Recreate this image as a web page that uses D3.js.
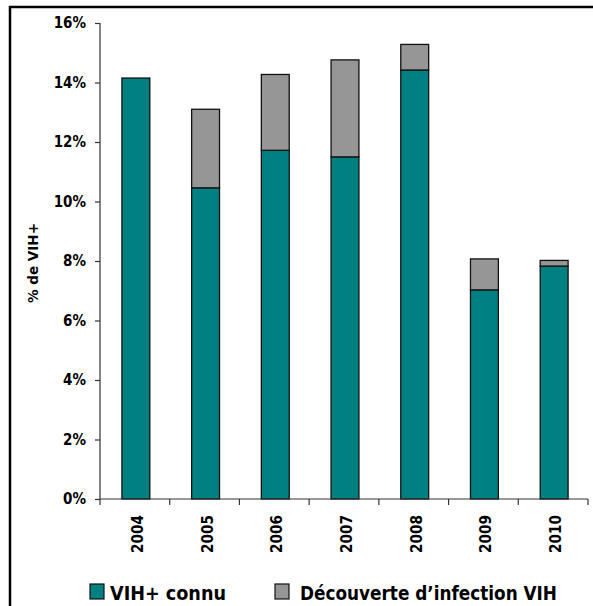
<!DOCTYPE html>
<html><head><meta charset="utf-8">
<script src="https://cdn.jsdelivr.net/npm/d3@7/dist/d3.min.js"></script>
<style>body{margin:0;background:#fff}svg{display:block}text{font-family:"DejaVu Sans Condensed","DejaVu Sans",sans-serif;font-weight:bold;fill:#000}</style>
</head><body>
<svg id="c" width="593" height="606"></svg>
<script>
const years = ["2004","2005","2006","2007","2008","2009","2010"];
const connu = [14.15, 10.46, 11.72, 11.5, 14.42, 7.03, 7.83];
const decouverte = [0, 2.64, 2.55, 3.26, 0.86, 1.04, 0.19];
const yTicks = [0,2,4,6,8,10,12,14,16];
const seriesNames = ["VIH+ connu","Découverte d\u2019infection VIH"];
const colors = ["#008080","#969696"];

const FONT = '"DejaVu Sans Condensed","DejaVu Sans",sans-serif';
const svg = d3.select("#c");
svg.append("rect").attr("x",10).attr("y",7).attr("width",600).attr("height",620)
  .attr("fill","none").attr("stroke","#000").attr("stroke-width",2.5);

const x = d3.scaleBand().domain(years).range([100,588]).paddingInner(0.6).paddingOuter(0.3);
const xb = d3.scaleBand().domain(years).range([100,588]);
const y = d3.scaleLinear().domain([0,16]).range([499,23]);

const data = years.map((yr,i)=>({year:yr, connu:connu[i], decouverte:decouverte[i]}));
const stack = d3.stack().keys(["connu","decouverte"])(data);

const g = svg.append("g");
stack.forEach((s,si)=>{
  g.selectAll(null).data(s.filter(d=>d[1]-d[0]>0)).enter().append("rect")
    .attr("x",d=>x(d.data.year)+1).attr("width",x.bandwidth())
    .attr("y",d=>y(d[1])).attr("height",d=>y(d[0])-y(d[1]))
    .attr("fill",colors[si]).attr("stroke","#111").attr("stroke-width",1.3);
});

// y axis
const ya = svg.append("g").attr("transform","translate(100,0)")
  .call(d3.axisLeft(y).tickValues(yTicks).tickFormat(d=>d+"%").tickSize(5).tickPadding(9));
ya.attr("font-family",FONT).attr("font-size",15);
ya.select(".domain").attr("stroke","#333").attr("stroke-width",1.2).attr("d","M0,23V499");
ya.selectAll(".tick line").attr("stroke","#333").attr("stroke-width",1.2);
ya.selectAll("text").style("font-size","15px").style("font-family",FONT).style("font-weight","bold");

// x axis
const xa = svg.append("g").attr("transform","translate(0,499)");
xa.append("line").attr("x1",100).attr("x2",588).attr("stroke","#333").attr("stroke-width",1.2);
const bounds = years.map(d=>xb(d)).concat([588]);
xa.selectAll(null).data(bounds).enter().append("line")
  .attr("x1",d=>d).attr("x2",d=>d).attr("y1",0).attr("y2",6).attr("stroke","#333").attr("stroke-width",1.2);
xa.selectAll(null).data(years).enter().append("text")
  .attr("transform",d=>`translate(${x(d)+1+x.bandwidth()/2+7},16) rotate(-90)`)
  .attr("text-anchor","end").style("font-size","16px")
  .attr("textLength",38).attr("lengthAdjust","spacingAndGlyphs").text(d=>d);

// y label
svg.append("text").attr("transform","translate(38,263) rotate(-90)")
  .attr("text-anchor","middle").style("font-size","14px")
  .attr("textLength",80).attr("lengthAdjust","spacingAndGlyphs").text("% de VIH+");

// legend
const lx = [90,275];
const tx = [110,300];
const tl = [116,257];
seriesNames.forEach((n,i)=>{
  svg.append("rect").attr("x",lx[i]).attr("y",584).attr("width",14).attr("height",15)
    .attr("fill",colors[i]).attr("stroke","#111").attr("stroke-width",1.2);
  svg.append("text").attr("x",tx[i]).attr("y",600).style("font-size","20px")
    .attr("textLength", tl[i]).attr("lengthAdjust","spacingAndGlyphs").text(n);
});
</script>
</body></html>
